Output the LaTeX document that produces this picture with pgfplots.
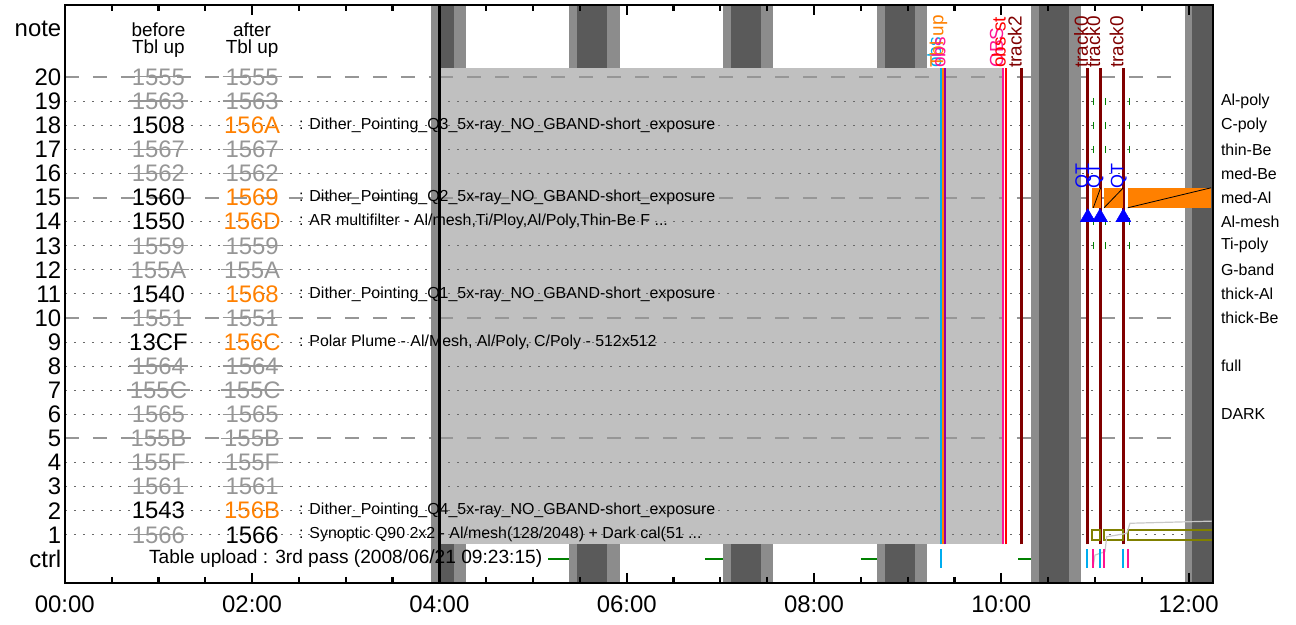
\documentclass[border=0pt]{standalone}
\usepackage{fontspec}
\setmainfont{Liberation Sans}
\usepackage{pgfplots}
\pgfplotsset{compat=1.18}

\definecolor{darkband}{RGB}{90,90,90}
\definecolor{lightband}{RGB}{140,140,140}
\definecolor{plotgray}{RGB}{192,192,192}
\definecolor{dashgray}{RGB}{150,150,150}
\definecolor{dotgray}{RGB}{105,105,105}
\definecolor{strikegray}{RGB}{150,150,150}
\definecolor{torange}{RGB}{255,128,0}
\definecolor{trackred}{RGB}{128,0,0}
\definecolor{olivebox}{RGB}{128,128,0}
\definecolor{dpink}{RGB}{255,20,147}
\definecolor{ggreen}{RGB}{0,128,0}
\definecolor{vline}{RGB}{150,0,160}
\definecolor{polygray}{RGB}{200,200,200}

\newcommand{\fs}[1]{\fontsize{#1}{#1}\selectfont}
% struck-through table id
\newcommand{\strk}[1]{\setbox0=\hbox{#1}\rlap{\kern-3pt\rule[\dimexpr0.355em-0.6pt\relax]{\dimexpr\wd0+6pt\relax}{1.2pt}}\box0}
% rectangle through the axis: x1 x2 y1 y2 style
\newcommand{\rect}[5]{\addplot[#5] coordinates {(#1,#3) (#2,#3) (#2,#4) (#1,#4)} -- cycle;}
% band: light start, dark start, dark end, light end
\newcommand{\band}[4]{%
  \rect{#1}{#4}{-1}{23}{fill=lightband,draw=none}
  \rect{#2}{#3}{-1}{23}{fill=darkband,draw=none}}
\newcommand{\crossed}[2]{%
  \node[num,text=strikegray] at (1,#1) {\strk{#2}};
  \node[num,text=strikegray] at (2,#1) {\strk{#2}};}
\newcommand{\changed}[4]{%
  \node[num] at (1,#1) {#2};
  \node[num,text=torange] at (2,#1) {#3};
  \node[desc] at (2.5,#1) {#4};}

\begin{document}
\begin{tikzpicture}[
  num/.style={font=\fs{24},inner sep=0,anchor=center},
  desc/.style={font=\fs{16},inner sep=0,anchor=west},
  rot/.style={rotate=90,anchor=base west,inner sep=0,font=\fs{19},xshift=-1.5bp},
  side/.style={font=\fs{16},inner sep=0,anchor=west,xshift=8bp},
  dotgrid/.style={dotgray,line width=1bp,dash pattern=on 2bp off 7bp},
  dashgrid/.style={dashgray,line width=2bp,dash pattern=on 14bp off 14bp},
]
\begin{axis}[
  name=ax,
  scale only axis, width=1148bp, height=578bp,
  xmin=0, xmax=12.258, ymin=-1, ymax=23,
  clip=false, axis on top,
  axis line style={line width=2.5bp},
  xtick={0,2,4,6,8,10,12},
  xticklabels={00:00,02:00,04:00,06:00,08:00,10:00,12:00},
  xtick style={draw=none},
  ytick={0,1,2,3,4,5,6,7,8,9,10,11,12,13,14,15,16,17,18,19,20,22},
  yticklabels={ctrl,1,2,3,4,5,6,7,8,9,10,11,12,13,14,15,16,17,18,19,20,note},
  ytick pos=left,
  ytick style={draw=none},
  xticklabel style={font=\fs{24},yshift=-9bp},
  yticklabel style={font=\fs{24}},
]
% grid under the bands
\pgfplotsinvokeforeach{1,2,3,4,6,7,8,9,11,12,13,14,16,17,18,19}{
  \draw[dotgrid] (0,#1) -- (12.258,#1);}
\pgfplotsinvokeforeach{5,10,15,20}{
  \draw[dashgrid] (0,#1) -- (12.258,#1);}

% eclipse / night bands
\band{3.911}{4.014}{4.155}{4.281}
\band{5.383}{5.470}{5.790}{5.928}
\band{7.027}{7.114}{7.434}{7.560}
\band{8.674}{8.758}{9.074}{9.204}
\band{10.318}{10.400}{10.723}{10.850}
\band{11.962}{12.040}{12.258}{12.258}

% observing block
\rect{4.0}{10.02}{0.6}{20.4}{fill=plotgray,draw=none}
\pgfplotsinvokeforeach{1,2,3,4,6,7,8,9,11,12,13,14,16,17,18,19}{
  \draw[dotgrid] (4.0,#1) -- (10.02,#1);}
\pgfplotsinvokeforeach{5,10,15,20}{
  \draw[dashgrid] (4.0,#1) -- (10.02,#1);}
\addplot[black,line width=2.5bp] coordinates {(4.0,-1) (4.0,23)};

% table ids
\node[font=\fs{19},anchor=base] at (1,21.69) {before};
\node[font=\fs{19},anchor=base] at (1,20.97) {Tbl up};
\node[font=\fs{19},anchor=base] at (2,21.69) {after};
\node[font=\fs{19},anchor=base] at (2,20.97) {Tbl up};
\crossed{20}{1555}
\crossed{19}{1563}
\changed{18}{1508}{156A}{: Dither\_Pointing\_Q3\_5x-ray\_NO\_GBAND-short\_exposure}
\crossed{17}{1567}
\crossed{16}{1562}
\changed{15}{1560}{1569}{: Dither\_Pointing\_Q2\_5x-ray\_NO\_GBAND-short\_exposure}
\changed{14}{1550}{156D}{: AR multifilter - Al/mesh,Ti/Ploy,Al/Poly,Thin-Be F ...}
\crossed{13}{1559}
\crossed{12}{155A}
\changed{11}{1540}{1568}{: Dither\_Pointing\_Q1\_5x-ray\_NO\_GBAND-short\_exposure}
\crossed{10}{1551}
\changed{9}{13CF}{156C}{: Polar Plume - Al/Mesh, Al/Poly, C/Poly - 512x512}
\crossed{8}{1564}
\crossed{7}{155C}
\crossed{6}{1565}
\crossed{5}{155B}
\crossed{4}{155F}
\crossed{3}{1561}
\changed{2}{1543}{156B}{: Dither\_Pointing\_Q4\_5x-ray\_NO\_GBAND-short\_exposure}
\node[num,text=strikegray] at (1,1) {\strk{1566}};
\node[num] at (2,1) {1566};
\node[desc] at (2.5,1) {: Synoptic Q90 2x2 - Al/mesh(128/2048) + Dark cal(51 ...};
\node[font=\fs{19.2},inner sep=0,anchor=east] at (5.1,0) {Table upload : 3rd pass (2008/06/21 09:23:15)};

% ctrl row: green segments
\addplot[ggreen,line width=2bp] coordinates {(5.163,0) (5.383,0)};
\addplot[ggreen,line width=2bp] coordinates {(6.836,0) (7.027,0)};
\addplot[ggreen,line width=2bp] coordinates {(8.500,0) (8.674,0)};
\addplot[ggreen,line width=2bp] coordinates {(10.18,0) (10.318,0)};

% event lines
\addplot[cyan,line width=1.8bp] coordinates {(9.357,0.6) (9.357,20.4)};
\addplot[torange,line width=2.2bp] coordinates {(9.380,0.6) (9.380,20.4)};
\addplot[vline,line width=2bp] coordinates {(9.403,0.6) (9.403,20.4)};
\addplot[dpink,line width=2bp] coordinates {(10.020,0.6) (10.020,20.4)};
\addplot[red,line width=2bp] coordinates {(10.045,0.6) (10.045,20.4)};
\addplot[trackred,line width=3bp] coordinates {(10.218,0.6) (10.218,20.4)};
\addplot[trackred,line width=3bp] coordinates {(10.923,0.6) (10.923,20.4)};
\addplot[trackred,line width=3bp] coordinates {(11.054,0.6) (11.054,20.4)};
\addplot[trackred,line width=3bp] coordinates {(11.303,0.6) (11.303,20.4)};
\addplot[only marks,mark=|,mark size=9.5bp,cyan,mark options={line width=2bp}]
  coordinates {(9.357,0) (10.914,0) (11.054,0) (11.296,0)};
\addplot[only marks,mark=|,mark size=9.5bp,dpink,mark options={line width=2bp}]
  coordinates {(10.978,0) (11.100,0) (11.350,0)};

% filter wheel ticks
\addplot[only marks,mark=|,mark size=3.5bp,ggreen,mark options={line width=1.2bp}]
  coordinates {(10.98,19) (11.115,19) (11.37,19) (10.98,18) (11.115,18) (11.37,18)
               (10.98,17) (11.115,17) (11.37,17) (10.98,14) (11.115,14) (11.37,14)
               (10.98,13) (11.115,13) (11.37,13)};

% med-Al exposures
\rect{10.972}{11.060}{14.58}{15.41}{fill=torange,draw=none}
\rect{11.097}{11.303}{14.58}{15.41}{fill=torange,draw=none}
\rect{11.350}{12.240}{14.58}{15.41}{fill=torange,draw=none}
\addplot[black,line width=0.8bp] coordinates {(10.982,14.58) (11.060,15.41)};
\addplot[black,line width=0.8bp] coordinates {(11.097,14.58) (11.303,15.41)};
\addplot[black,line width=0.8bp] coordinates {(11.350,14.58) (12.240,15.41)};

% synoptic boxes
\rect{10.972}{11.054}{0.78}{1.20}{draw=olivebox,line width=2bp,fill=none}
\rect{11.097}{11.303}{0.78}{1.20}{draw=olivebox,line width=2bp,fill=none}
\rect{11.350}{12.258}{0.78}{1.20}{draw=olivebox,line width=2bp,fill=none}
\addplot[polygray,line width=1.2bp] coordinates {(10.983,-0.26) (11.0,0.16) (11.107,0.30)
  (11.125,0.92) (11.339,1.06) (11.374,1.48) (12.258,1.57)};

% QT markers
\addplot[only marks,mark=triangle*,mark size=8.7bp,blue,mark options={fill=blue,draw=blue}]
  coordinates {(10.923,14.18) (11.054,14.18) (11.303,14.18)};
\node[rot,font=\fs{18},text=blue] at (10.923,15.45) {QT};
\node[rot,font=\fs{18},text=blue] at (11.054,15.45) {QT};
\node[rot,font=\fs{18},text=blue] at (11.303,15.45) {QT};

% top labels
\node[rot,text=cyan] at (9.357,20.45) {obs};
\node[rot,text=torange] at (9.380,20.45) {Tbl up};
\node[rot,text=dpink] at (9.403,20.45) {obs};
\node[rot,text=dpink] at (10.020,20.45) {OBS};
\node[rot,text=red] at (10.045,20.45) {obs st};
\node[rot,text=trackred] at (10.218,20.45) {track2};
\node[rot,text=trackred] at (10.923,20.45) {track0};
\node[rot,text=trackred] at (11.054,20.45) {track0};
\node[rot,text=trackred] at (11.303,20.45) {track0};

% filter names
\node[side] at (12.258,19) {Al-poly};
\node[side] at (12.258,18) {C-poly};
\node[side] at (12.258,17) {thin-Be};
\node[side] at (12.258,16) {med-Be};
\node[side] at (12.258,15) {med-Al};
\node[side] at (12.258,14) {Al-mesh};
\node[side] at (12.258,13) {Ti-poly};
\node[side] at (12.258,12) {G-band};
\node[side] at (12.258,11) {thick-Al};
\node[side] at (12.258,10) {thick-Be};
\node[side] at (12.258,8) {full};
\node[side] at (12.258,6) {DARK};

% time ticks as vertical bar marks, bottom and top edges
\addplot[only marks,mark=|,mark size=5bp,black,mark options={line width=2.2bp}]
  coordinates {(2,-0.79) (4,-0.79) (6,-0.79) (8,-0.79) (10,-0.79) (12,-0.79)
               (2,22.79) (4,22.79) (6,22.79) (8,22.79) (10,22.79) (12,22.79)};
\addplot[only marks,mark=|,mark size=3bp,black,mark options={line width=2.2bp}]
  coordinates {(0.5,-0.875) (1,-0.875) (1.5,-0.875) (2.5,-0.875) (3,-0.875) (3.5,-0.875)
               (4.5,-0.875) (5,-0.875) (5.5,-0.875) (6.5,-0.875) (7,-0.875) (7.5,-0.875)
               (8.5,-0.875) (9,-0.875) (9.5,-0.875) (10.5,-0.875) (11,-0.875) (11.5,-0.875)
               (0.5,22.875) (1,22.875) (1.5,22.875) (2.5,22.875) (3,22.875) (3.5,22.875)
               (4.5,22.875) (5,22.875) (5.5,22.875) (6.5,22.875) (7,22.875) (7.5,22.875)
               (8.5,22.875) (9,22.875) (9.5,22.875) (10.5,22.875) (11,22.875) (11.5,22.875)};
\end{axis}
\draw[line width=2.5bp] (ax.south west) rectangle (ax.north east);
\pgfresetboundingbox
\path[use as bounding box] (ax.south west) ++(-64.8bp,-42bp) rectangle ++(1296bp,625bp);
\end{tikzpicture}
\end{document}
